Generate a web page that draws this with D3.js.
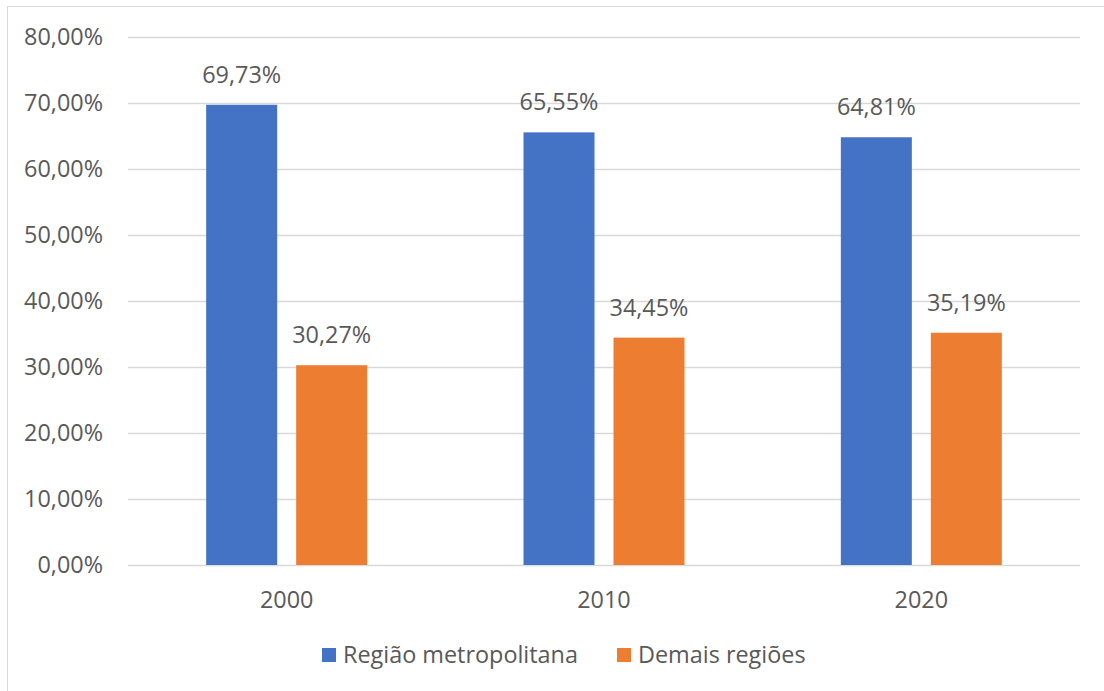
<!DOCTYPE html>
<html>
<head>
<meta charset="utf-8">
<script src="https://cdn.jsdelivr.net/npm/d3@7"></script>
<style>
  body { margin: 0; background: #fff; }
  text { font-family: "Open Sans", "Noto Sans", sans-serif; fill: #595959; }
</style>
</head>
<body>
<div id="chart"></div>
<script>
var years = ["2000", "2010", "2020"],
    metro = [69.73, 65.55, 64.81],
    demais = [30.27, 34.45, 35.19],
    series = ["Região metropolitana", "Demais regiões"],
    colors = ["#4472C4", "#ED7D31"],
    yTicks = [0, 10, 20, 30, 40, 50, 60, 70, 80];

var W = 1104, H = 691,
    plotL = 128, plotR = 1080, plotT = 37, plotB = 565,
    barW = 71, gap = 19, fs = "23.4px";

var fmt = function(v) { return v.toFixed(2).replace(".", ",") + "%"; };

var svg = d3.select("#chart").append("svg")
    .attr("width", W).attr("height", H);

// outer frame
svg.append("rect")
    .attr("x", 7.5).attr("y", 6.5)
    .attr("width", W + 10).attr("height", H + 10)
    .attr("fill", "none").attr("stroke", "#d9d9d9").attr("stroke-width", 1);

var x = d3.scaleBand().domain(years).range([plotL, plotR]);
var y = d3.scaleLinear().domain([0, 80]).range([plotB, plotT]);

// gridlines
svg.append("g").selectAll("line")
    .data(yTicks)
    .enter().append("line")
    .attr("x1", plotL).attr("x2", plotR)
    .attr("y1", function(d) { return Math.round(y(d)) + 0.5; })
    .attr("y2", function(d) { return Math.round(y(d)) + 0.5; })
    .attr("stroke", "#d9d9d9").attr("stroke-width", 1.3);

// y labels
svg.append("g").selectAll("text")
    .data(yTicks)
    .enter().append("text")
    .attr("x", 103)
    .attr("y", function(d) { return y(d); })
    .attr("dy", "0.36em")
    .attr("text-anchor", "end")
    .style("font-size", fs)
    .text(function(d) { return fmt(d); });

// x labels
svg.append("g").selectAll("text")
    .data(years)
    .enter().append("text")
    .attr("x", function(d) { return x(d) + x.bandwidth() / 2; })
    .attr("y", 608)
    .attr("text-anchor", "middle")
    .style("font-size", fs)
    .text(function(d) { return d; });

var data = [metro, demais];
var offs = [-(barW + gap / 2), gap / 2];

data.forEach(function(vals, s) {
    var g = svg.append("g");
    g.selectAll("rect")
        .data(vals)
        .enter().append("rect")
        .attr("x", function(d, i) { return x(years[i]) + x.bandwidth() / 2 + offs[s]; })
        .attr("y", function(d) { return y(d); })
        .attr("width", barW)
        .attr("height", function(d) { return y(0) - y(d); })
        .attr("fill", colors[s]);
    g.selectAll("text")
        .data(vals)
        .enter().append("text")
        .attr("x", function(d, i) { return x(years[i]) + x.bandwidth() / 2 + offs[s] + barW / 2; })
        .attr("y", function(d) { return y(d) - 22; })
        .attr("text-anchor", "middle")
        .style("font-size", fs)
        .text(function(d) { return fmt(d); });
});

// legend
var legX = [322, 617];
var leg = svg.append("g").selectAll("g")
    .data(series)
    .enter().append("g")
    .attr("transform", function(d, i) { return "translate(" + legX[i] + ",648)"; });
leg.append("rect")
    .attr("width", 14).attr("height", 14)
    .attr("fill", function(d, i) { return colors[i]; });
leg.append("text")
    .attr("x", 21).attr("y", 7)
    .attr("dy", "0.36em")
    .style("font-size", fs)
    .text(function(d) { return d; });
</script>
</body>
</html>
